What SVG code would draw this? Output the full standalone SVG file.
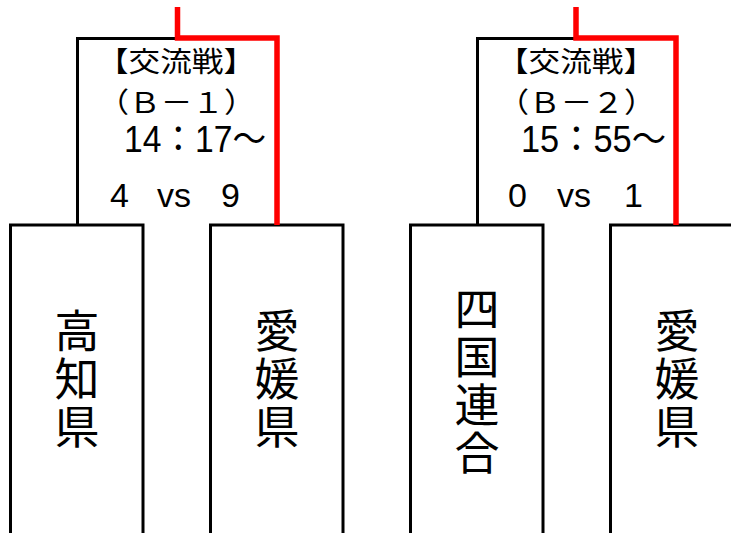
<svg xmlns="http://www.w3.org/2000/svg" width="731" height="533" viewBox="0 0 731 533">
<style>
.box{fill:#fff;stroke:#000;stroke-width:3}
.blk{fill:none;stroke:#000;stroke-width:3}
.red{fill:none;stroke:#ff0000;stroke-width:5.5;stroke-linecap:butt;stroke-linejoin:miter}
.cjk{font-family:"Noto Sans CJK JP","Noto Sans CJK SC",sans-serif;fill:#000}
.hd{font-size:28px;text-anchor:middle}
.tm{font-family:"Liberation Sans","Noto Sans CJK JP",sans-serif;font-size:36px;fill:#000}
.sc{font-family:"Liberation Sans",Arial,sans-serif;font-size:34px;fill:#000}
.team{font-size:45px;text-anchor:middle;writing-mode:vertical-rl;letter-spacing:3px}
</style>
<rect width="731" height="533" fill="#fff"/>
<g id="node-kochi">
<rect class="box" x="10.5" y="225" width="132.5" height="330"/>
<text class="cjk team" x="77" y="380">高知県</text>
</g>
<g id="node-ehime1">
<rect class="box" x="210.5" y="225" width="132.5" height="330"/>
<text class="cjk team" x="277" y="380">愛媛県</text>
</g>
<g id="node-shikoku">
<rect class="box" x="410.5" y="225" width="132.5" height="330"/>
<text class="cjk team" x="477" y="382">四国連合</text>
</g>
<g id="node-ehime2">
<rect class="box" x="610.5" y="225" width="132.5" height="330"/>
<text class="cjk team" x="677" y="380">愛媛県</text>
</g>
<g id="connectors">
<path class="blk" d="M77.5,225 V38.5 H177"/>
<path class="blk" d="M477.5,225 V38.5 H576"/>
<path class="red" d="M177.5,7 V38 H277 V225"/>
<path class="red" d="M576,7 V38 H676 V225"/>
</g>
<g id="match-b1">
<text class="cjk hd" x="176" y="72" textLength="158" lengthAdjust="spacingAndGlyphs">【交流戦】</text>
<text class="cjk hd" x="176.5" y="113" textLength="158" lengthAdjust="spacingAndGlyphs">（Ｂ－１）</text>
<text class="tm" x="124" y="152" textLength="142" lengthAdjust="spacingAndGlyphs">14：17～</text>
<text class="sc" y="207"><tspan x="110">4</tspan><tspan x="157">vs</tspan><tspan x="221">9</tspan></text>
</g>
<g id="match-b2">
<text class="cjk hd" x="576" y="72" textLength="158" lengthAdjust="spacingAndGlyphs">【交流戦】</text>
<text class="cjk hd" x="576.5" y="113" textLength="158" lengthAdjust="spacingAndGlyphs">（Ｂ－２）</text>
<text class="tm" x="521" y="152" textLength="145" lengthAdjust="spacingAndGlyphs">15：55～</text>
<text class="sc" y="207"><tspan x="508">0</tspan><tspan x="557">vs</tspan><tspan x="624">1</tspan></text>
</g>
</svg>
